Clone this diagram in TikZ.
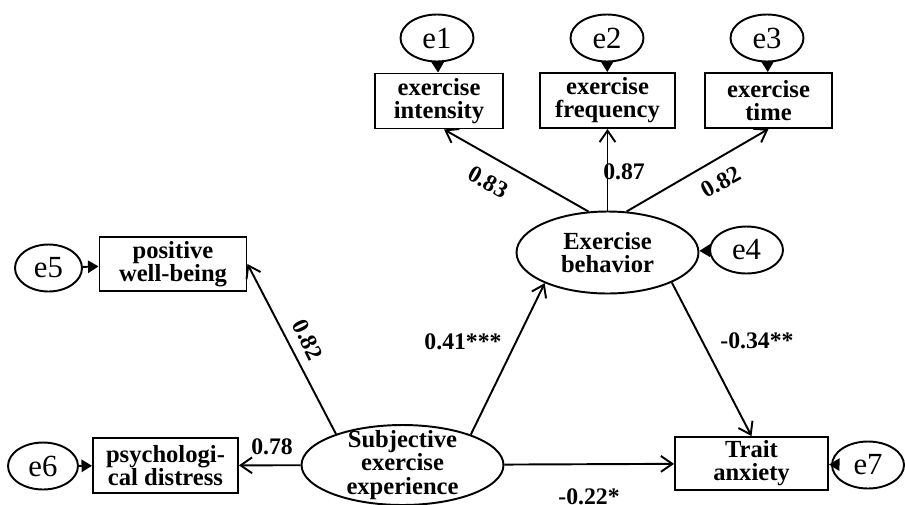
\documentclass[tikz,border=0pt]{standalone}
\usepackage{fontspec}
\setmainfont{Liberation Serif}
\usetikzlibrary{shapes.geometric,arrows.meta}

\begin{document}
\begin{tikzpicture}
[x=0.02cm,y=-0.02cm,
  obsBox/.style={shape=rectangle,draw,line width=1.1pt,inner sep=0pt,align=center,font=\bfseries\fontsize{14}{13.2}\selectfont},%
  latentText/.style={align=center,inner sep=0pt,font=\bfseries\fontsize{14}{13.2}\selectfont},%
  latentEllipse/.style={latentText,shape=ellipse,draw,line width=1.1pt},%
  errEllipse/.style={shape=ellipse,draw,line width=1.1pt,inner sep=0pt,minimum height=0.94cm,font=\fontsize{17.5}{17.5}\selectfont},%
  pathArrow/.style={-{Straight Barb[length=6.5pt,width=9pt]},line width=1.1pt},%
  errArrow/.style={-{Triangle[length=6pt,width=7pt]},line width=1.1pt},%
  coefLabel/.style={inner sep=0pt,font=\bfseries\fontsize{13.5}{13.5}\selectfont}]
\useasboundingbox (0,0) rectangle (905,504);
%% observed variables
\node (intensity) at (439,101) [obsBox,minimum width=2.56cm,minimum height=1.1cm] {exercise\\intensity};
\node (frequency) at (607.5,100.5) [obsBox,minimum width=2.7cm,minimum height=1.1cm] {exercise\\frequency};
\node (time) at (768.5,100.5) [obsBox,minimum width=2.54cm,minimum height=1.1cm] {exercise\\time};
\node (wellbeing) at (173,264) [obsBox,minimum width=2.94cm,minimum height=1.08cm] {positive\\well-being};
\node (distress) at (165.5,465.5) [obsBox,minimum width=2.9cm,minimum height=1.1cm] {psychologi-\\cal distress};
\node (anxiety) at (751.5,463.5) [obsBox,minimum width=3.06cm,minimum height=1.06cm] {Trait\\anxiety};
%% latent variables
\node (behavior) at (607.5,252.5) [latentEllipse,minimum width=3.64cm,minimum height=1.64cm] {Exercise\\behavior};
\node (subjective) at (402.5,465) [latentEllipse,minimum width=4.04cm,minimum height=1.6cm] {};
\node (subjectiveText) at (subjective) [latentText] {Subjective\\exercise\\experience};
%% error terms
\foreach \nodename/\x/\y/\w in {e1/437/38/1.46, e2/607/38/1.46, e3/767/38/1.46,
  e4/746.5/250/1.46, e5/48.5/268/1.34, e6/43/466/1.4, e7/868/465/1.44}
{
  \node (\nodename) at (\x,\y) [errEllipse,minimum width=\w cm] {\nodename};
}
%% coefficients
\node at (488,182) [coefLabel,rotate=-29] {0.83};
\node at (624,172) [coefLabel] {0.87};
\node at (721,182) [coefLabel,rotate=29] {0.82};
\node at (308,340) [coefLabel,rotate=-64] {0.82};
\node at (463,342) [coefLabel] {0.41***};
\node at (272,447) [coefLabel] {0.78};
\node at (757,341) [coefLabel] {-0.34**};
\node at (589,497) [coefLabel] {-0.22*};
%% paths
\path
\foreach \startnode/\endnode in {e1/intensity, e2/frequency, e3/time, e4/behavior,
  e5/wellbeing, e6/distress, e7/anxiety}
{
  (\startnode) edge[errArrow] (\endnode)
}
\foreach \startnode/\endnode in {behavior.115/intensity.-80, behavior/frequency,
  behavior.65/time.south, subjective.155/wellbeing.east, subjective/distress,
  subjective.24/behavior.206, behavior.-25/anxiety.north, subjective/anxiety}
{
  (\startnode) edge[pathArrow] (\endnode)
};
\end{tikzpicture}
\end{document}
